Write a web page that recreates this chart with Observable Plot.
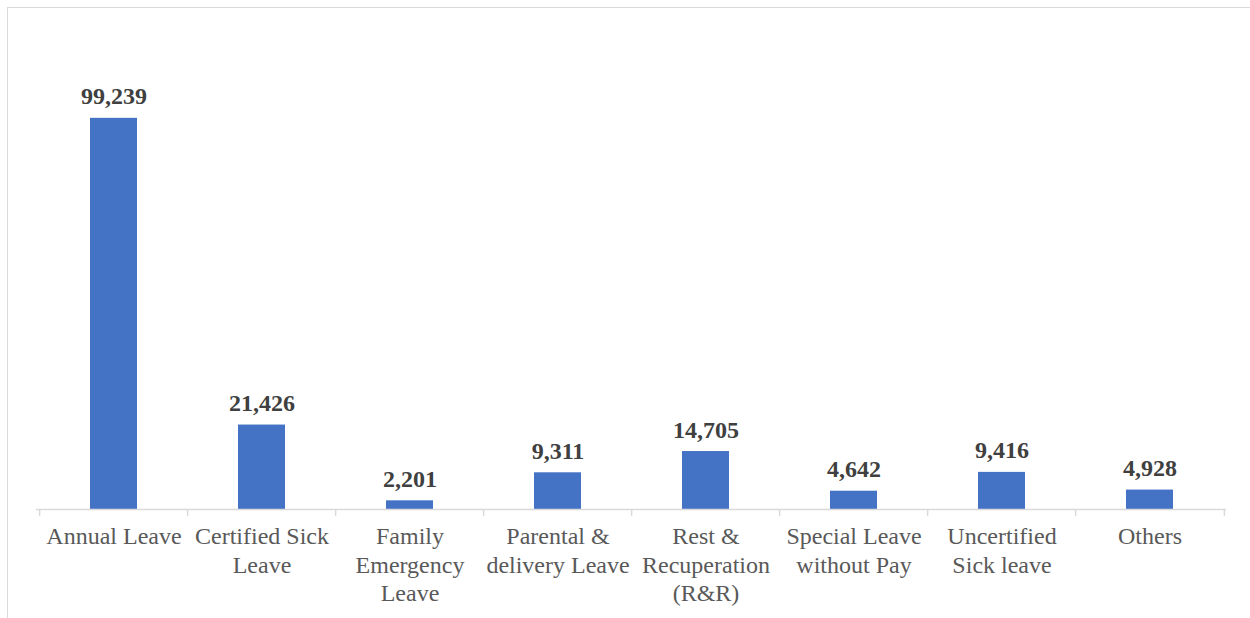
<!DOCTYPE html>
<html>
<head>
<meta charset="utf-8">
<script src="https://cdn.jsdelivr.net/npm/d3@7"></script>
<script src="https://cdn.jsdelivr.net/npm/@observablehq/plot@0.6"></script>
<style>
  html, body { margin: 0; padding: 0; background: #fff; overflow: hidden; }
  #wrap { position: relative; width: 1250px; height: 618px; }
  #border { position: absolute; left: 7px; top: 7px; width: 1300px; height: 700px; border: 1.5px solid #d9d9d9; box-sizing: border-box; }
  #chart { position: absolute; left: 0; top: 0; }
</style>
</head>
<body>
<div id="wrap"><div id="border"></div><div id="chart"></div></div>
<script>
const categories = ["Annual Leave", "Certified Sick Leave", "Family Emergency Leave", "Parental & delivery Leave", "Rest & Recuperation (R&R)", "Special Leave without Pay", "Uncertified Sick leave", "Others"];
const tickLabels = ["Annual Leave", "Certified Sick\nLeave", "Family\nEmergency\nLeave", "Parental &\ndelivery Leave", "Rest &\nRecuperation\n(R&R)", "Special Leave\nwithout Pay", "Uncertified\nSick leave", "Others"];
const values = [99239, 21426, 2201, 9311, 14705, 4642, 9416, 4928];

const data = categories.map((c, i) => ({category: c, value: values[i], label: tickLabels[i]}));

const width = 1250, height = 618;
const marginLeft = 36, marginRight = 24;
const step = (width - marginLeft - marginRight) / categories.length;

const chart = Plot.plot({
  width, height,
  marginLeft, marginRight, marginTop: 36, marginBottom: 109,
  style: {fontFamily: "'Liberation Serif', 'Times New Roman', serif", background: "transparent"},
  x: {domain: categories, paddingInner: 0.684, paddingOuter: 0.342, axis: null},
  y: {domain: [0, 120000], axis: null},
  marks: [
    Plot.barY(data, {x: "category", y: "value", fill: "#4472C4"}),
    Plot.ruleY([0], {stroke: "#d9d9d9", strokeWidth: 1.5}),
    Plot.ruleX(categories, {x: d => d, dx: -step / 2, y1: 0, y2: 0, insetBottom: -7, stroke: "#d9d9d9", strokeWidth: 1.5}),
    Plot.ruleX([categories[categories.length - 1]], {x: d => d, dx: step / 2, y1: 0, y2: 0, insetBottom: -7, stroke: "#d9d9d9", strokeWidth: 1.5}),
    Plot.text(data, {x: "category", y: "value", text: d => d3.format(",")(d.value), dy: -14, lineAnchor: "bottom", fontSize: 24, fontWeight: "bold", fill: "#404040"}),
    Plot.text(data, {x: "category", y: 0, text: "label", dy: 15, lineAnchor: "top", fontSize: 24, lineHeight: 1.17, fill: "#595959"})
  ]
});
document.getElementById("chart").appendChild(chart);
</script>
</body>
</html>
